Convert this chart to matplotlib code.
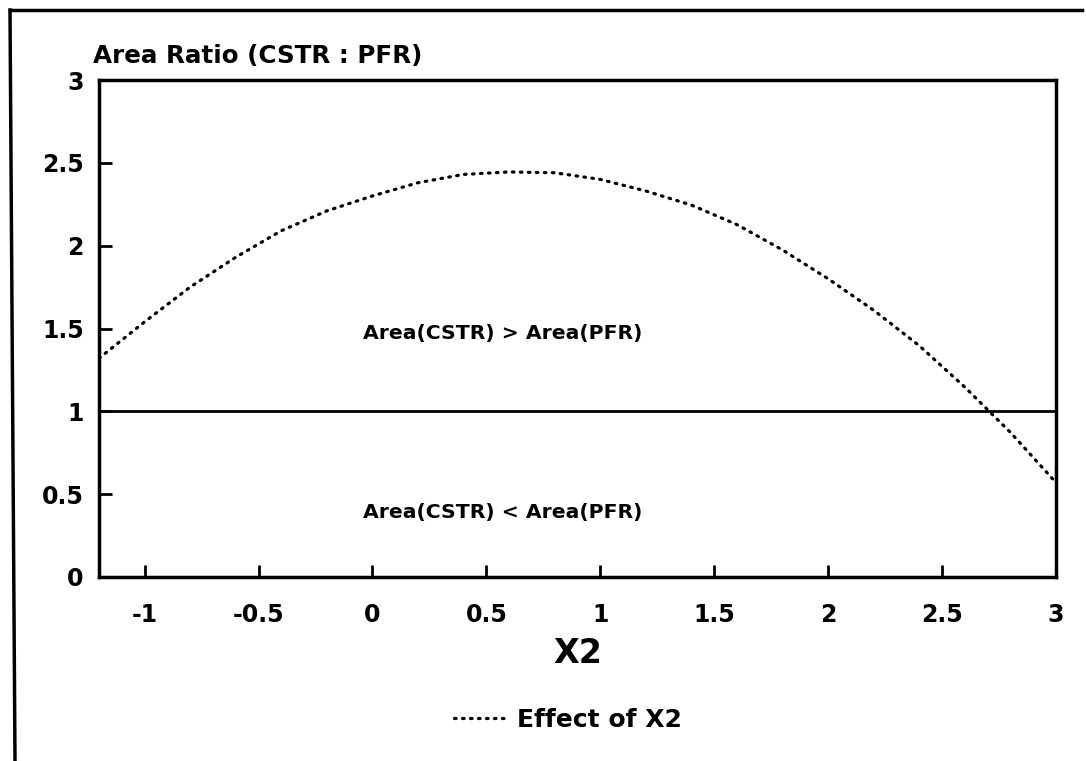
import numpy as np
import matplotlib
matplotlib.use("Agg")
import matplotlib.pyplot as plt
from matplotlib.lines import Line2D

plt.rcParams['font.family'] = ['DejaVu Sans']
plt.rcParams['font.weight'] = 'bold'

# area ratio CSTR:PFR as X2 is varied
x2 = [-1.2, -1.0, -0.8, -0.6, -0.4, -0.2, 0.0, 0.2, 0.4, 0.6, 0.8,
      1.0, 1.2, 1.4, 1.6, 1.8, 2.0, 2.2, 2.4, 2.6, 2.8, 3.0]
ratio = [1.32, 1.54, 1.75, 1.93, 2.09, 2.21, 2.30, 2.38, 2.43, 2.445, 2.44,
         2.40, 2.33, 2.245, 2.127, 1.974, 1.80, 1.61, 1.396, 1.146, 0.873, 0.57]

xticks = [-1, -0.5, 0, 0.5, 1, 1.5, 2, 2.5, 3]
xtick_labels = ['-1', '-0.5', '0', '0.5', '1', '1.5', '2', '2.5', '3']
yticks = [0, 0.5, 1, 1.5, 2, 2.5, 3]
ytick_labels = ['0', '0.5', '1', '1.5', '2', '2.5', '3']

W, H = 1086, 761
fig = plt.figure(figsize=(W / 100, H / 100), dpi=100)
ax = fig.add_axes([99 / W, 1 - 577 / H, (1056 - 99) / W, (577 - 80) / H])

line, = ax.plot(x2, ratio, color='black', lw=2.3, linestyle=(0, (0.5, 2.0)),
                dash_capstyle='round', label='Effect of X2')
ax.axhline(1, color='black', lw=2)

ax.text(0.57, 1.47, 'Area(CSTR) > Area(PFR)', ha='center', va='center',
        fontsize=14.7, fontweight='bold')
ax.text(0.57, 0.39, 'Area(CSTR) < Area(PFR)', ha='center', va='center',
        fontsize=14.7, fontweight='bold')

ax.set_xlim(-1.2, 3)
ax.set_ylim(0, 3)
ax.set_xticks(xticks)
ax.set_xticklabels(xtick_labels)
ax.set_yticks(yticks)
ax.set_yticklabels(ytick_labels)
ax.tick_params(axis='both', direction='in', length=9, width=2,
               labelsize=17, color='black')
ax.tick_params(axis='x', pad=19)
ax.tick_params(axis='y', pad=11)
for s in ax.spines.values():
    s.set_linewidth(2.5)

ax.set_xlabel('X2', fontsize=24, fontweight='bold', labelpad=7)

fig.text(93 / W, 1 - 63 / H, 'Area Ratio (CSTR : PFR)', fontsize=17.7,
         fontweight='bold', ha='left', va='baseline')

fig.legend(handles=[line], loc='center', bbox_to_anchor=(568 / W, 1 - 720 / H),
           frameon=False, handlelength=2.0, handletextpad=0.5,
           prop={'weight': 'bold', 'size': 18})

# page border along the left and top edges
fig.add_artist(Line2D([10 / W, 15 / W], [1 - 10 / H, 0], transform=fig.transFigure,
                      color='black', lw=2.5))
fig.add_artist(Line2D([10 / W, 1 - 4 / W], [1 - 10 / H, 1 - 10 / H],
                      transform=fig.transFigure, color='black', lw=2.5))

fig.savefig('out.png', dpi=100)
